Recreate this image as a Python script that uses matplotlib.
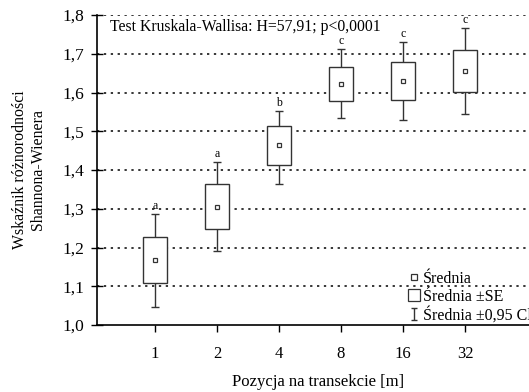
import numpy as np
import matplotlib.pyplot as plt
from matplotlib.lines import Line2D
from matplotlib.path import Path
from matplotlib.ticker import FuncFormatter

plt.rcParams['font.family'] = ['Liberation Serif', 'DejaVu Serif']

# data
positions = ['1', '2', '4', '8', '16', '32']
means = [1.168, 1.305, 1.465, 1.622, 1.629, 1.655]
se_low = [1.109, 1.248, 1.413, 1.579, 1.581, 1.601]
se_high = [1.228, 1.363, 1.514, 1.667, 1.679, 1.710]
ci_low = [1.047, 1.191, 1.364, 1.533, 1.529, 1.544]
ci_high = [1.286, 1.421, 1.553, 1.712, 1.730, 1.766]
groups = ['a', 'a', 'b', 'c', 'c', 'c']

x = np.arange(len(positions))
means = np.array(means)
lc = '#333333'

fig = plt.figure(figsize=(5.29, 3.92), dpi=100)
ax = fig.add_axes([97 / 529, 67 / 392, (539.4 - 97) / 529, 310 / 392])

# grid
for v in np.arange(1.1, 1.81, 0.1):
    ax.axhline(v, color='black', lw=1.1, ls=(0, (1.5, 3)), zorder=0)

# whiskers (0.95 CI)
ax.errorbar(x, means, yerr=[means - np.array(ci_low), np.array(ci_high) - means],
            fmt='none', ecolor=lc, elinewidth=1, capsize=3, capthick=1, zorder=2)
# boxes (mean +- SE)
ax.bar(x, np.array(se_high) - np.array(se_low), bottom=se_low, width=0.4,
       facecolor='white', edgecolor=lc, linewidth=1, zorder=3)
# means
ax.plot(x, means, 's', ms=3.5, mfc='white', mec=lc, mew=0.9, ls='none', zorder=4)

# group letters
for xi, top, g in zip(x, ci_high, groups):
    ax.annotate(g, (xi, top), xytext=(0, 1.5), textcoords='offset points',
                ha='center', va='bottom', fontsize=8.5)

ax.text(0.03, 0.96, 'Test Kruskala-Wallisa: H=57,91; p<0,0001',
        transform=ax.transAxes, fontsize=11.3, va='center', ha='left')

ax.set_xlim(-0.935, 6.2)
ax.set_ylim(1.0, 1.8)
ax.set_xticks(x)
ax.set_xticklabels(positions)
ax.set_yticks(np.arange(1.0, 1.81, 0.1))
ax.yaxis.set_major_formatter(FuncFormatter(lambda v, p: f'{v:.1f}'.replace('.', ',')))
ax.tick_params(axis='y', direction='inout', length=8, width=1, labelsize=12.5, pad=5)
ax.tick_params(axis='x', direction='out', length=5, width=1, labelsize=12, pad=10)
for s in ['top', 'right']:
    ax.spines[s].set_visible(False)
ax.spines['left'].set_linewidth(1.2)
ax.spines['bottom'].set_linewidth(1.2)

ax.set_xlabel('Pozycja na transekcie [m]', fontsize=12, labelpad=9)
ax.set_ylabel('Wskaźnik różnorodności\nShannona-Wienera', fontsize=11.4,
              labelpad=12, linespacing=1.2)

# legend
ci_marker = Path([(-0.5, 1), (0.5, 1), (0, 1), (0, -1), (-0.5, -1), (0.5, -1)],
                 [Path.MOVETO, Path.LINETO, Path.MOVETO, Path.LINETO, Path.MOVETO, Path.LINETO])
handles = [
    Line2D([], [], marker='s', ms=4, mfc='white', mec=lc, mew=0.9, ls='none'),
    Line2D([], [], marker='s', ms=9, mfc='white', mec=lc, mew=0.9, ls='none'),
    Line2D([], [], marker=ci_marker, ms=9, mfc='none', mec=lc, mew=1, ls='none'),
]
labels = ['Średnia', 'Średnia ±SE', 'Średnia ±0,95 Cl']
ax.legend(handles, labels, loc='upper left', bbox_to_anchor=(0.705, 0.175),
          frameon=False, fontsize=11.5, handlelength=0.7, handletextpad=0.2,
          labelspacing=0.12, borderaxespad=0, borderpad=0)

fig.savefig('out.png', dpi=100)
